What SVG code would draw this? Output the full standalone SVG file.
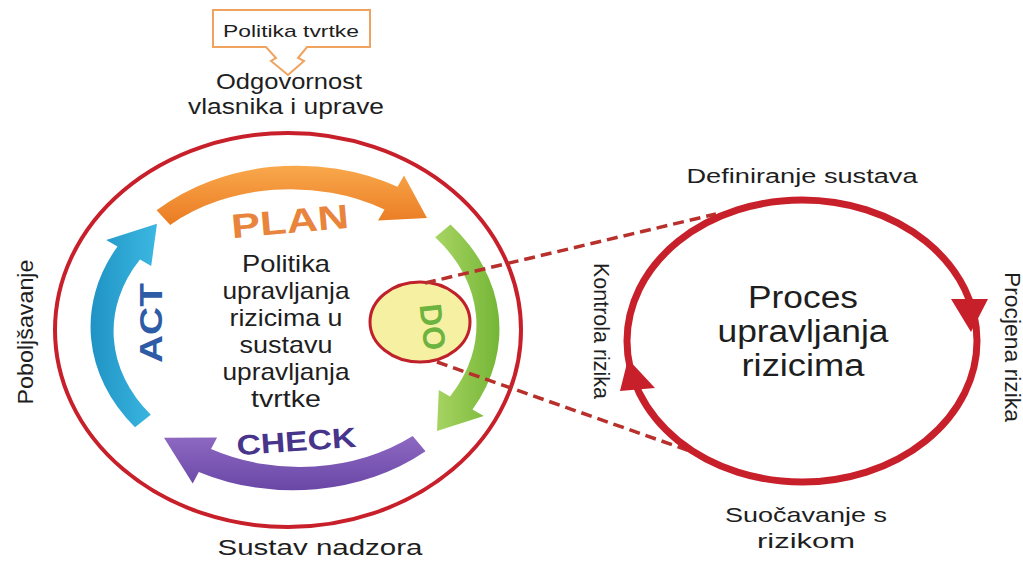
<svg xmlns="http://www.w3.org/2000/svg" width="1023" height="562" viewBox="0 0 1023 562">
<defs>
  <linearGradient id="gOrange" x1="0" y1="0" x2="0" y2="1">
    <stop offset="0" stop-color="#f9a84c"/><stop offset="1" stop-color="#ea7b22"/>
  </linearGradient>
  <linearGradient id="gGreen" x1="0" y1="0" x2="1" y2="0">
    <stop offset="0" stop-color="#a8d463"/><stop offset="1" stop-color="#74b636"/>
  </linearGradient>
  <linearGradient id="gPurple" x1="0" y1="0" x2="0" y2="1">
    <stop offset="0" stop-color="#8d69c2"/><stop offset="1" stop-color="#6a47a6"/>
  </linearGradient>
  <linearGradient id="gBlue" x1="0" y1="0" x2="1" y2="0">
    <stop offset="0" stop-color="#1f93c4"/><stop offset="1" stop-color="#3cb8e2"/>
  </linearGradient>
</defs>
<style>
  .lbl{font-family:"Liberation Sans",Arial,sans-serif;fill:#1e1e1e}
  .big{font-family:"Liberation Sans",Arial,sans-serif;font-weight:bold}
  .ring{fill:none;stroke:#c8202b}
  .dash{fill:none;stroke:#b8302c;stroke-width:3.5;stroke-dasharray:11 6}
  .head{fill:#c8202b}
</style>
<rect width="1023" height="562" fill="#ffffff"/>

<g id="policy-box">
  <path d="M213,10 H370 V47 H307 L298,58 L304,61 L288,75 L271,61 L276,58 L266,47 H213 Z" fill="#ffffff" stroke="#f0a35e" stroke-width="2"/>
  <text class="lbl" x="291" y="37" font-size="17" text-anchor="middle" textLength="136" lengthAdjust="spacingAndGlyphs">Politika tvrtke</text>
</g>

<g id="responsibility-label">
  <text class="lbl" x="289" y="89" font-size="22" text-anchor="middle" textLength="146" lengthAdjust="spacingAndGlyphs">Odgovornost</text>
  <text class="lbl" x="286" y="114" font-size="22" text-anchor="middle" textLength="196" lengthAdjust="spacingAndGlyphs">vlasnika i uprave</text>
</g>

<g id="management-system">
  <ellipse class="ring" cx="288" cy="330" rx="233" ry="197" stroke-width="4"/>
</g>

<g id="plan">
  <path d="M156.6,210.3 A203,161 0 0 1 397.5,186.8 L404,175.6 L427,218 L378,220.6 L384.5,209.4 A179,137 0 0 0 170.2,224.9 Z" fill="url(#gOrange)"/>
  <text class="big" transform="translate(291,233) rotate(-5)" font-size="34" text-anchor="middle" fill="#e8843c" textLength="118" lengthAdjust="spacingAndGlyphs">PLAN</text>
</g>

<g id="do">
  <path d="M450.5,224.5 A203,161 0 0 1 472.5,409.5 L483.8,416 L437,431 L438.8,390 L450,396.5 A179,137 0 0 0 435.2,237.3 Z" fill="url(#gGreen)"/>
</g>

<g id="check">
  <path d="M425.5,451.3 A203,161 0 0 1 198.8,471.9 L192.7,483.4 L164,437.7 L217.1,437.5 L211,449 A179,137 0 0 0 412.7,436 Z" fill="url(#gPurple)"/>
  <text class="big" transform="translate(297,451) rotate(-4)" font-size="28" text-anchor="middle" fill="#47358c" textLength="120" lengthAdjust="spacingAndGlyphs">CHECK</text>
</g>

<g id="act">
  <path d="M135,427.2 A203,161 0 0 1 117.5,246.5 L106.2,240 L157,223.8 L151.2,266 L140,259.5 A179,137 0 0 0 150.8,414.8 Z" fill="url(#gBlue)"/>
  <text class="big" transform="translate(162,323) rotate(-90)" font-size="31" text-anchor="middle" fill="#2d5ba6" textLength="80" lengthAdjust="spacingAndGlyphs">ACT</text>
</g>

<g id="policy-center">
  <text class="lbl" x="286" y="272" font-size="24" text-anchor="middle" textLength="88" lengthAdjust="spacingAndGlyphs">Politika</text>
  <text class="lbl" x="286" y="299" font-size="24" text-anchor="middle" textLength="127" lengthAdjust="spacingAndGlyphs">upravljanja</text>
  <text class="lbl" x="286" y="326" font-size="24" text-anchor="middle" textLength="113" lengthAdjust="spacingAndGlyphs">rizicima u</text>
  <text class="lbl" x="286" y="353" font-size="24" text-anchor="middle" textLength="93" lengthAdjust="spacingAndGlyphs">sustavu</text>
  <text class="lbl" x="286" y="380" font-size="24" text-anchor="middle" textLength="127" lengthAdjust="spacingAndGlyphs">upravljanja</text>
  <text class="lbl" x="286" y="407" font-size="24" text-anchor="middle" textLength="70" lengthAdjust="spacingAndGlyphs">tvrtke</text>
</g>

<g id="do-focus">
  <ellipse cx="420" cy="322" rx="50" ry="40" fill="#f6f0a2" stroke="#c0202a" stroke-width="3"/>
  <text class="big" transform="translate(422,328) rotate(84)" font-size="31" text-anchor="middle" fill="#6cb33f">DO</text>
</g>

<g id="connectors">
  <line class="dash" x1="425" y1="283" x2="716" y2="214"/>
  <line class="dash" x1="437" y1="362" x2="690" y2="451"/>
</g>

<g id="risk-cycle">
  <ellipse class="ring" cx="802" cy="341" rx="175" ry="141" stroke-width="7"/>
  <polygon class="head" points="951,299 988,299 971,332"/>
  <polygon class="head" points="620,391 655,388 628,359"/>
  <text class="lbl" x="803" y="308" font-size="31" text-anchor="middle" textLength="110" lengthAdjust="spacingAndGlyphs">Proces</text>
  <text class="lbl" x="803" y="342" font-size="31" text-anchor="middle" textLength="171" lengthAdjust="spacingAndGlyphs">upravljanja</text>
  <text class="lbl" x="803" y="376" font-size="31" text-anchor="middle" textLength="123" lengthAdjust="spacingAndGlyphs">rizicima</text>
</g>

<g id="risk-labels">
  <text class="lbl" x="802" y="183" font-size="20" text-anchor="middle" textLength="231" lengthAdjust="spacingAndGlyphs">Definiranje sustava</text>
  <text class="lbl" transform="translate(1005,347) rotate(90)" font-size="22" text-anchor="middle" textLength="150" lengthAdjust="spacingAndGlyphs">Procjena rizika</text>
  <text class="lbl" transform="translate(594,331) rotate(90)" font-size="22" text-anchor="middle" textLength="136" lengthAdjust="spacingAndGlyphs">Kontrola rizika</text>
  <text class="lbl" x="806" y="522" font-size="21" text-anchor="middle" textLength="162" lengthAdjust="spacingAndGlyphs">Suočavanje s</text>
  <text class="lbl" x="806" y="548" font-size="21" text-anchor="middle" textLength="98" lengthAdjust="spacingAndGlyphs">rizikom</text>
</g>

<g id="side-labels">
  <text class="lbl" transform="translate(33,332) rotate(-90)" font-size="22" text-anchor="middle" textLength="145" lengthAdjust="spacingAndGlyphs">Poboljšavanje</text>
  <text class="lbl" x="320" y="555" font-size="22" text-anchor="middle" textLength="205" lengthAdjust="spacingAndGlyphs">Sustav nadzora</text>
</g>
</svg>
